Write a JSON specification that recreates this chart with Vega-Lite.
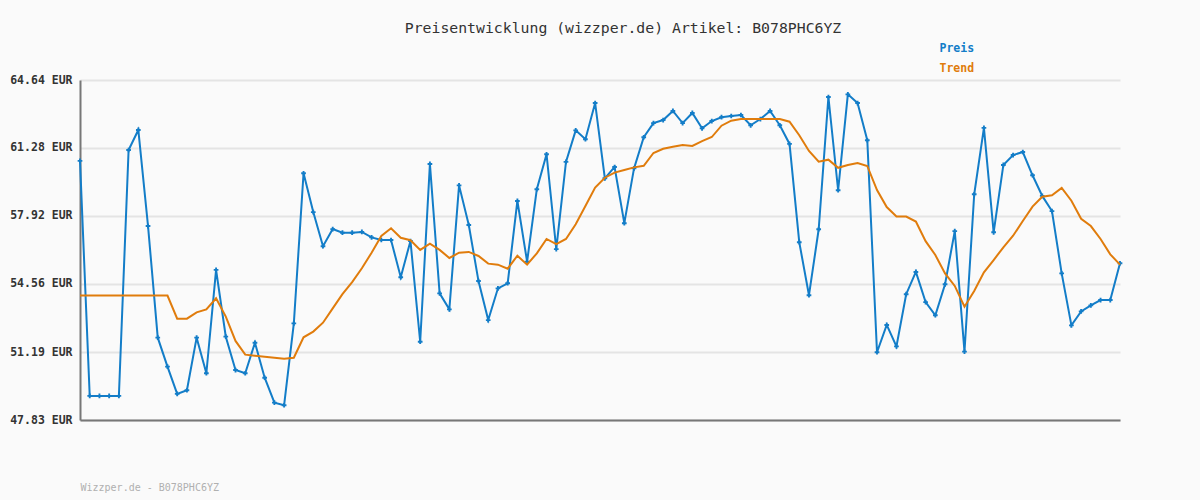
{
  "$schema": "https://vega.github.io/schema/vega-lite/v6.json",
  "width": 1040,
  "height": 340,
  "autosize": {"type": "none"},
  "padding": {"left": 80, "top": 80, "right": 80, "bottom": 80},
  "background": "#fafafa",
  "config": {"view": {"stroke": null}},
  "title": {
    "text": "Preisentwicklung (wizzper.de) Artikel: B078PHC6YZ",
    "font": "DejaVu Sans Mono",
    "fontSize": 14.8,
    "fontWeight": "normal",
    "color": "#333333",
    "anchor": "middle",
    "frame": "group",
    "dx": 23,
    "offset": 7
  },
  "data": {"values": [
    {"i":0,"Preis":60.64,"Trend":53.98},{"i":1,"Preis":49.02,"Trend":53.98},{"i":2,"Preis":49.02,"Trend":53.98},{"i":3,"Preis":49.02,"Trend":53.98},{"i":4,"Preis":49.02,"Trend":53.98},
    {"i":5,"Preis":61.18,"Trend":53.98},{"i":6,"Preis":62.17,"Trend":53.98},{"i":7,"Preis":57.42,"Trend":53.98},{"i":8,"Preis":51.90,"Trend":53.98},{"i":9,"Preis":50.47,"Trend":53.98},
    {"i":10,"Preis":49.12,"Trend":52.84},{"i":11,"Preis":49.30,"Trend":52.84},{"i":12,"Preis":51.90,"Trend":53.15},{"i":13,"Preis":50.14,"Trend":53.30},{"i":14,"Preis":55.25,"Trend":53.85},
    {"i":15,"Preis":51.95,"Trend":52.94},{"i":16,"Preis":50.30,"Trend":51.74},{"i":17,"Preis":50.14,"Trend":51.06},{"i":18,"Preis":51.65,"Trend":51.01},{"i":19,"Preis":49.92,"Trend":50.96},
    {"i":20,"Preis":48.69,"Trend":50.91},{"i":21,"Preis":48.56,"Trend":50.86},{"i":22,"Preis":52.61,"Trend":50.91},{"i":23,"Preis":60.03,"Trend":51.92},{"i":24,"Preis":58.11,"Trend":52.20},
    {"i":25,"Preis":56.42,"Trend":52.64},{"i":26,"Preis":57.27,"Trend":53.35},{"i":27,"Preis":57.09,"Trend":54.05},{"i":28,"Preis":57.09,"Trend":54.65},{"i":29,"Preis":57.13,"Trend":55.33},
    {"i":30,"Preis":56.86,"Trend":56.10},{"i":31,"Preis":56.73,"Trend":56.93},{"i":32,"Preis":56.73,"Trend":57.31},{"i":33,"Preis":54.89,"Trend":56.84},{"i":34,"Preis":56.68,"Trend":56.72},
    {"i":35,"Preis":51.70,"Trend":56.24},{"i":36,"Preis":60.49,"Trend":56.55},{"i":37,"Preis":54.09,"Trend":56.24},{"i":38,"Preis":53.30,"Trend":55.84},{"i":39,"Preis":59.43,"Trend":56.10},
    {"i":40,"Preis":57.47,"Trend":56.14},{"i":41,"Preis":54.70,"Trend":55.94},{"i":42,"Preis":52.77,"Trend":55.56},{"i":43,"Preis":54.34,"Trend":55.51},{"i":44,"Preis":54.59,"Trend":55.31},
    {"i":45,"Preis":58.66,"Trend":55.95},{"i":46,"Preis":55.66,"Trend":55.51},{"i":47,"Preis":59.24,"Trend":56.07},{"i":48,"Preis":60.97,"Trend":56.78},{"i":49,"Preis":56.28,"Trend":56.52},
    {"i":50,"Preis":60.59,"Trend":56.78},{"i":51,"Preis":62.15,"Trend":57.51},{"i":52,"Preis":61.71,"Trend":58.41},{"i":53,"Preis":63.50,"Trend":59.32},{"i":54,"Preis":59.78,"Trend":59.81},
    {"i":55,"Preis":60.34,"Trend":60.06},{"i":56,"Preis":57.56,"Trend":60.19},{"i":57,"Preis":60.27,"Trend":60.32},{"i":58,"Preis":61.81,"Trend":60.40},{"i":59,"Preis":62.51,"Trend":61.03},
    {"i":60,"Preis":62.66,"Trend":61.24},{"i":61,"Preis":63.11,"Trend":61.34},{"i":62,"Preis":62.51,"Trend":61.43},{"i":63,"Preis":63.01,"Trend":61.38},{"i":64,"Preis":62.25,"Trend":61.62},
    {"i":65,"Preis":62.61,"Trend":61.82},{"i":66,"Preis":62.80,"Trend":62.38},{"i":67,"Preis":62.86,"Trend":62.63},{"i":68,"Preis":62.91,"Trend":62.71},{"i":69,"Preis":62.40,"Trend":62.71},
    {"i":70,"Preis":62.71,"Trend":62.71},{"i":71,"Preis":63.11,"Trend":62.71},{"i":72,"Preis":62.40,"Trend":62.71},{"i":73,"Preis":61.48,"Trend":62.58},{"i":74,"Preis":56.62,"Trend":61.91},
    {"i":75,"Preis":54.00,"Trend":61.13},{"i":76,"Preis":57.26,"Trend":60.60},{"i":77,"Preis":63.80,"Trend":60.70},{"i":78,"Preis":59.19,"Trend":60.30},{"i":79,"Preis":63.93,"Trend":60.44},
    {"i":80,"Preis":63.50,"Trend":60.54},{"i":81,"Preis":61.66,"Trend":60.39},{"i":82,"Preis":51.18,"Trend":59.20},{"i":83,"Preis":52.53,"Trend":58.36},{"i":84,"Preis":51.47,"Trend":57.89},
    {"i":85,"Preis":54.05,"Trend":57.89},{"i":86,"Preis":55.15,"Trend":57.64},{"i":87,"Preis":53.66,"Trend":56.67},{"i":88,"Preis":53.01,"Trend":55.99},{"i":89,"Preis":54.54,"Trend":55.08},
    {"i":90,"Preis":57.17,"Trend":54.46},{"i":91,"Preis":51.21,"Trend":53.43},{"i":92,"Preis":58.99,"Trend":54.21},{"i":93,"Preis":62.27,"Trend":55.13},{"i":94,"Preis":57.11,"Trend":55.74},
    {"i":95,"Preis":60.44,"Trend":56.37},{"i":96,"Preis":60.93,"Trend":56.94},{"i":97,"Preis":61.08,"Trend":57.67},{"i":98,"Preis":59.93,"Trend":58.38},{"i":99,"Preis":58.91,"Trend":58.87},
    {"i":100,"Preis":58.16,"Trend":58.94},{"i":101,"Preis":55.08,"Trend":59.30},{"i":102,"Preis":52.51,"Trend":58.67},{"i":103,"Preis":53.20,"Trend":57.78},{"i":104,"Preis":53.50,"Trend":57.42},
    {"i":105,"Preis":53.76,"Trend":56.78},{"i":106,"Preis":53.76,"Trend":56.02},{"i":107,"Preis":55.58,"Trend":55.51}
  ]},
  "encoding": {
    "x": {
      "field": "i",
      "type": "quantitative",
      "scale": {"domain": [0, 107], "nice": false, "zero": false},
      "axis": {
        "labels": false,
        "ticks": false,
        "grid": false,
        "domain": true,
        "domainColor": "#777777",
        "domainWidth": 2,
        "title": "Wizzper.de - B078PHC6YZ",
        "titleAnchor": "start",
        "titleFont": "DejaVu Sans Mono",
        "titleFontSize": 10,
        "titleFontWeight": "normal",
        "titleColor": "#b0b0b0",
        "titlePadding": 62
      }
    }
  },
  "layer": [
    {
      "mark": {"type": "line", "strokeWidth": 2, "interpolate": "linear"},
      "encoding": {
        "y": {
          "field": "Preis",
          "type": "quantitative",
          "scale": {"domain": [47.83, 64.64], "nice": false, "zero": false},
          "axis": {
            "values": [47.83, 51.19, 54.56, 57.92, 61.28, 64.64],
            "labelExpr": "format(datum.value, '.2f') + ' EUR'",
            "title": null,
            "ticks": false,
            "labelPadding": 8,
            "labelFont": "DejaVu Sans Mono",
            "labelFontSize": 11.5,
            "labelFontWeight": "bold",
            "labelColor": "#333333",
            "grid": true,
            "gridColor": "#e4e4e4",
            "gridWidth": 2,
            "domain": true,
            "domainColor": "#777777",
            "domainWidth": 2
          }
        },
        "color": {
          "datum": "Preis",
          "type": "nominal",
          "scale": {"domain": ["Preis", "Trend"], "range": ["#137dc8", "#e07c0c"]},
          "legend": {
            "title": null,
            "orient": "none",
            "legendX": 848,
            "legendY": -37,
            "symbolSize": 0,
            "symbolOpacity": 0,
            "symbolStrokeWidth": 0,
            "labelOffset": 0,
            "labelFont": "DejaVu Sans Mono",
            "labelFontSize": 11.5,
            "labelFontWeight": "bold",
            "rowPadding": 7,
            "encode": {
              "labels": {"update": {"fill": {"signal": "datum.value === 'Preis' ? '#137dc8' : '#e07c0c'"}}}
            }
          }
        }
      }
    },
    {
      "mark": {"type": "point", "shape": "cross", "size": 22, "filled": true, "opacity": 1},
      "encoding": {
        "y": {"field": "Preis", "type": "quantitative"},
        "color": {"datum": "Preis", "type": "nominal"}
      }
    },
    {
      "mark": {"type": "line", "strokeWidth": 2, "interpolate": "linear"},
      "encoding": {
        "y": {"field": "Trend", "type": "quantitative"},
        "color": {"datum": "Trend", "type": "nominal"}
      }
    }
  ]
}
